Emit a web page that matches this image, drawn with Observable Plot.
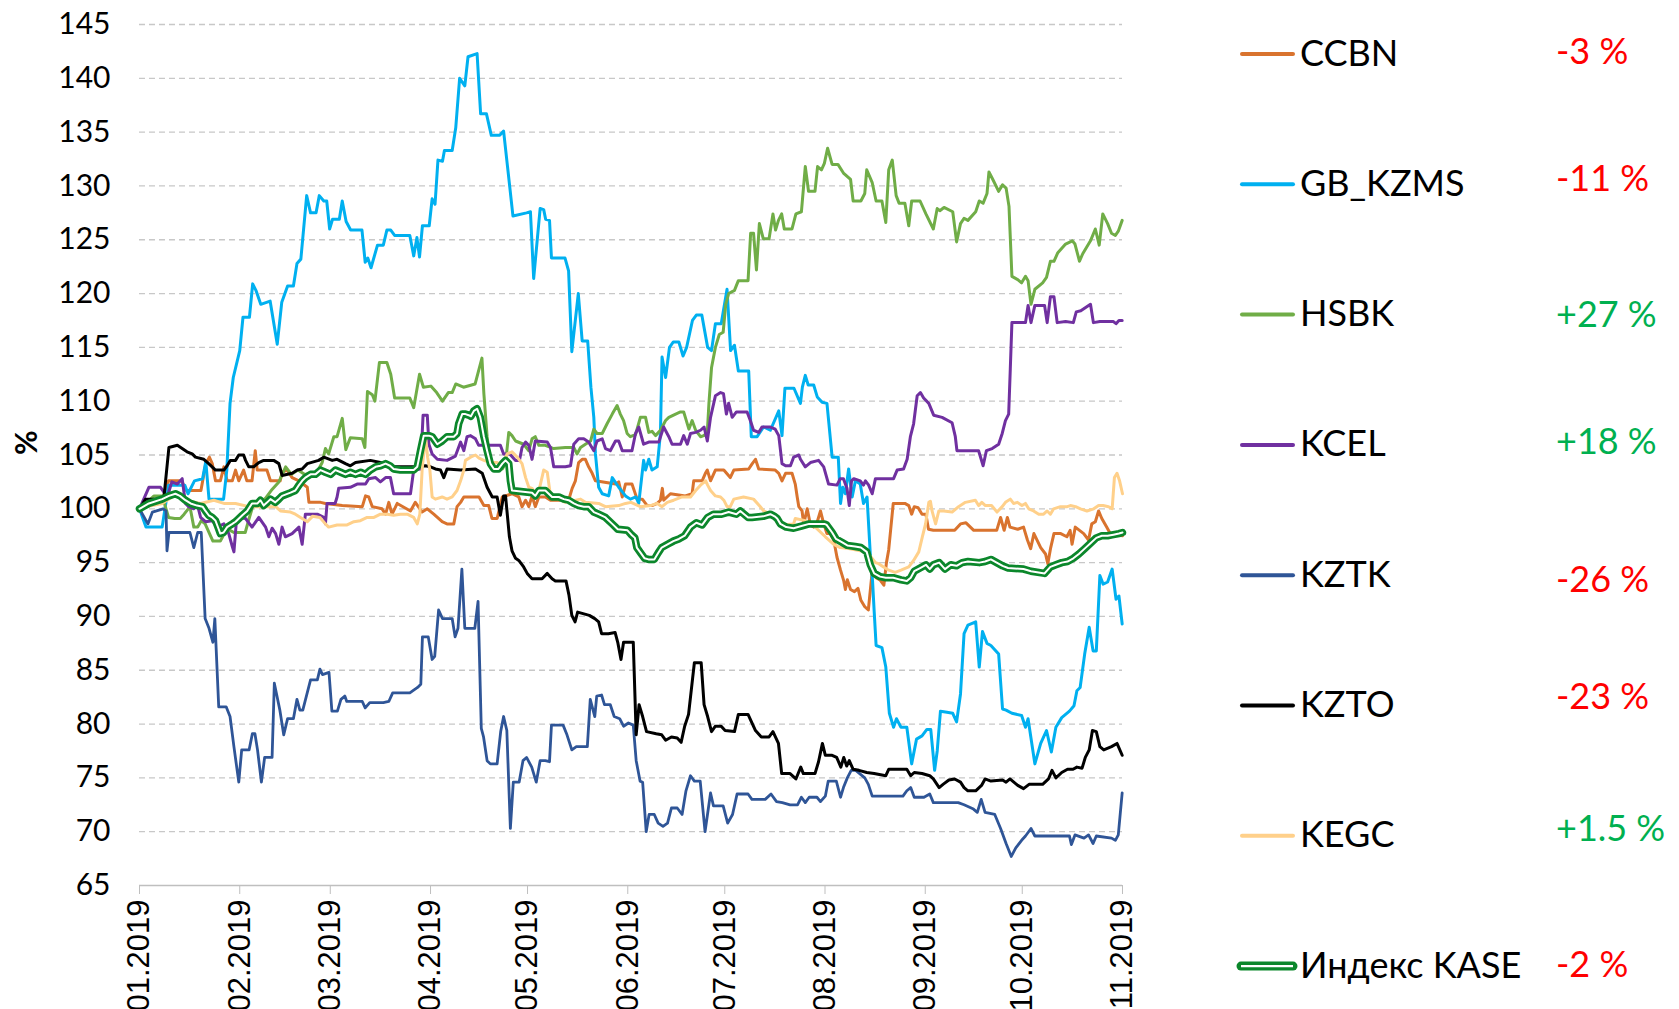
<!DOCTYPE html>
<html>
<head>
<meta charset="utf-8">
<script src="https://cdn.jsdelivr.net/npm/d3@7"></script>
<script src="https://cdn.jsdelivr.net/npm/@observablehq/plot@0.6"></script>
<style>
  html, body { margin: 0; padding: 0; background: #fff; }
  body { width: 1679px; height: 1009px; overflow: hidden; position: relative; font-family: Lato, sans-serif; }
  #chart { position: absolute; left: 0; top: 0; }
  #legend { position: absolute; left: 0; top: 0; }
</style>
</head>
<body>
<div id="chart"></div>
<svg id="legend" width="1679" height="1009"></svg>
<script>
// ---- DATA: [day of 2019 (1 = 1 Jan), level in % of the start value] ----
const xTickLabels = ["01.2019","02.2019","03.2019","04.2019","05.2019","06.2019","07.2019","08.2019","09.2019","10.2019","11.2019"];
const yTicks = [65,70,75,80,85,90,95,100,105,110,115,120,125,130,135,140,145];

const seriesNames = ["CCBN","GB_KZMS","HSBK","KCEL","KZTK","KZTO","KEGC","Индекс KASE"];
const seriesColors = ["#D9732E","#00B0F0","#70AD47","#7030A0","#2F5597","#000000","#FFD08A","#0B872B"];
const changeLabels = ["-3 %","-11 %","+27 %","+18 %","-26 %","-23 %","+1.5 %","-2 %"];

const CCBN = [[1,100],[3,100.5],[8,100.8],[10,102.6],[14,102.6],[15.5,101.7],[20,101.7],[21.5,104.2],[22.6,104.8],[23.5,104.2],[24.5,102.6],[26,102.6],[27.1,103.9],[28.1,102.6],[29.7,102.6],[30.7,103.6],[31.7,102.6],[33.2,103.6],[34.2,102.6],[35.8,102.6],[36.8,105.4],[37.4,103.6],[40.4,103.6],[41.5,102.6],[44.5,102.6],[45.1,103.4],[46.7,103.6],[48.2,102.9],[50.3,102.6],[52.9,102],[53.4,100.6],[57,100.6],[58.5,100.5],[63.7,100.3],[69.9,100.2],[70.9,101.2],[71.9,101.1],[73,100.2],[76,100],[77.1,99.5],[78.1,100.6],[79.1,99.5],[80.7,100.5],[84.8,99.8],[86.3,100.6],[88.4,99.7],[90,100],[92,99.5],[94.6,98.8],[96.1,98.6],[98.2,98.6],[99.2,100.2],[100.3,100.6],[101.3,101.1],[106,101.1],[107.5,100.3],[109,100.3],[110,99.1],[111.6,99.1],[113.2,101.1],[116.2,101.4],[118.3,101.1],[119.3,100.2],[120.4,100.8],[121.4,100.2],[122.4,101.2],[123.4,100.2],[124.5,101.1],[126.5,101.1],[128.1,100.8],[133.7,100.8],[134.8,101.9],[135.8,102.6],[136.8,104.3],[137.9,104.6],[138.9,104.6],[139.9,103.9],[141,103.3],[142,102.6],[148.2,102.3],[149.2,102.5],[150.3,101.1],[151.3,102.3],[153.3,102.3],[154.9,100.9],[156.5,100.9],[158,100.3],[159.5,100.3],[161.1,100.5],[162.1,100.8],[162.7,101.9],[163.1,100.8],[165.2,101.4],[169.8,101.2],[171.9,101.4],[172.4,102.6],[175,102.6],[176,103.3],[176.6,103.6],[177.6,102.6],[179.1,103.6],[181.7,103.6],[183.7,102.9],[184.8,103.6],[189.4,103.7],[190.5,104.2],[191.5,104.6],[192.5,103.7],[197.6,103.6],[198.7,103.3],[199.7,102.6],[200.8,103.3],[202.8,103.3],[203.8,102.3],[204.4,101.1],[204.9,100.2],[205.9,99.8],[206.4,98.6],[207.5,100],[208.5,98.5],[209.5,98.3],[210.6,98.8],[211.6,99.8],[212.6,98.6],[213.6,97.7],[214.6,97.7],[215.7,97.1],[216.7,95.5],[217.8,94.3],[218.8,93.3],[219.3,92.5],[219.9,93.4],[220.9,92.5],[222.1,92.3],[223.2,92.6],[224.1,91.5],[225.3,90.9],[226.4,90.6],[227.6,94.2],[228.8,93.6],[230,93.4],[231.2,92.9],[232,95],[232.7,96.2],[234.1,100.5],[237.7,100.5],[238.9,100.3],[239.8,99.5],[240.6,100.2],[241.8,100.1],[243,99.5],[244.2,99.5],[245,98.1],[246.5,98],[253.1,98],[254.9,98.6],[256.6,98.7],[259,98],[266.1,98],[267.3,99.2],[268.4,98],[269.4,99.2],[270.2,98.3],[272.6,98.1],[274.4,98.3],[275.6,97.1],[276.6,96.3],[277.6,97.7],[279.7,96.4],[281.2,95.8],[281.9,94.9],[282.8,96.4],[283.8,97.7],[285.9,97.7],[287.8,97.4],[288.8,98],[289.4,96.7],[290.4,98.3],[293,97.7],[294.5,97.1],[295.5,98.6],[296.6,98.8],[297.6,99.8],[298.6,99.1],[300.1,98.3],[301.2,97.7],[305,97.5]];

const GB_KZMS = [[1,100],[3,98.3],[8,98.3],[10,102.2],[15,102.2],[16,101.4],[18,102.6],[20.5,102.8],[21.5,104.4],[22.5,100.9],[27,100.9],[28,103.6],[29,109.8],[30,112.2],[32,114.7],[33,117.8],[35,117.8],[36,120.9],[37,120.3],[38.5,119],[41.4,119.3],[43.6,115.3],[45,119.2],[46.8,120.7],[48.6,120.7],[49.7,122.8],[50.9,123.2],[52.7,129.1],[53.9,127.5],[55.6,127.5],[56.6,129.1],[58,128.6],[58.9,128.6],[59.8,126],[60.7,126.9],[62.8,126.9],[63.7,128.6],[64.9,126.7],[66.3,125.9],[69.8,125.9],[70.8,122.9],[71.6,123.3],[72.6,122.4],[74.6,124.5],[76.4,124.5],[77.5,125.9],[78.7,125.9],[79.9,125.4],[84.6,125.4],[85.8,123.5],[86.8,125.2],[87.6,123.4],[88.5,126.3],[90.6,126.3],[91.5,128.8],[92.4,128.3],[93.3,132.4],[94.7,132.3],[95.3,133.3],[97.7,133.3],[98.8,135.4],[100,140],[101.6,139.3],[102.6,142],[105.4,142.3],[106.5,136.7],[108.3,136.7],[109.8,134.7],[112.4,134.7],[113.6,135.1],[116.5,127.2],[120.7,127.5],[121.9,127.6],[122.9,121.4],[124.9,127.9],[126,127.8],[126.6,126.9],[127.8,126.8],[128.4,123.3],[132.6,123.3],[133.7,122.1],[134.7,114.6],[136.7,120],[137.9,115.6],[139.6,115.6],[140.6,111.3],[141.5,108.5],[142,105.1],[143,102],[144.1,101.4],[146.1,101.2],[147.2,102.9],[149.2,102],[151.3,101.2],[152.8,100.9],[154.5,101.1],[155.4,100.5],[156.9,104.5],[157.5,103.6],[158.5,104.6],[159.5,103.6],[161.1,103.9],[162.1,107],[162.6,114.1],[163.7,112.2],[164.9,115],[166.1,115.5],[167.8,115.5],[169.1,114.2],[170.2,115],[172,117.5],[173.2,118],[174.9,118],[176.7,115],[177.9,114.7],[179.1,117.2],[180.9,117.2],[182.7,120.4],[183.8,114.7],[185,115.2],[186.2,112.8],[189.4,112.8],[190.2,106.7],[192,106.7],[194,107.6],[196.1,107.3],[198.7,109.1],[199.7,106.8],[200.6,111.2],[203.4,111.2],[205.4,109.8],[206,111.3],[206.9,112.4],[207.8,111.5],[209.5,111.5],[210.6,110.4],[212.1,109.9],[213.6,109.8],[215.2,104.8],[217.1,104.8],[217.8,100.5],[218.5,102],[219.3,101.4],[220.3,103.7],[221.4,101.1],[222.4,102.6],[223.9,102.3],[224.9,100.5],[226,101.1],[227,95.8],[227.7,93.3],[228.2,90.5],[228.8,87.3],[230.6,87.1],[231.8,85.3],[232.9,81],[234.2,79.7],[235.1,80.5],[236.5,79.7],[238.3,79.7],[239.8,76.3],[241.3,78.6],[243,78.9],[244.5,79.5],[245.7,79.5],[246.9,75.7],[247.7,77.5],[248.7,81.2],[250.7,81.1],[252.5,81],[253.7,80.2],[254.9,82.8],[256,88.4],[257.2,89.2],[259.6,89.5],[260.7,85.3],[261.7,88.6],[263.1,87.5],[264.3,87.3],[266.7,86.5],[267.9,81.4],[269,81.3],[270.8,81],[273.8,80.8],[275,79.7],[275.8,80.5],[277.9,76.3],[279.7,78.2],[281.5,79.4],[283,77.4],[284.4,79.7],[286.2,80.6],[288.6,81.2],[290,81.7],[290.9,83.1],[291.9,83.4],[293.3,86.5],[294.7,89],[295.9,86.8],[296.9,86.8],[298,93.8],[299,93],[300.4,93.2],[301.8,94.4],[303,91.6],[303.9,91.9],[304.9,89.3]];

const HSBK = [[1,100],[3,100.5],[5.5,101.2],[8,101.2],[10,99.2],[11.9,99.1],[13.6,99.1],[14.8,99.5],[16.6,100.2],[17.8,98.3],[19,98.3],[20.1,98.9],[21.3,98.6],[23.7,97],[26,97],[27.8,98],[29,98],[30.2,97.8],[33.7,97.8],[34.9,99.1],[36.1,100.3],[38,100.5],[40,101],[42,101.8],[44.1,102.5],[46.2,103.9],[48,103.2],[50,103.6],[52,103.2],[55.9,103.4],[57.5,104.3],[58.5,105.6],[59.5,105.1],[61.1,106.7],[62.1,106.7],[63.7,108.4],[64.8,105.5],[66.2,106.6],[69.9,106.5],[70.7,105.7],[71.5,110.9],[73,110.6],[73.8,110],[75.2,113.6],[77.5,113.6],[78.7,112.5],[79.9,110.3],[84.6,110.3],[85.8,109.4],[87.6,112.5],[88.8,111.3],[91.1,111.4],[92.9,110.8],[94.7,110],[96.5,110.8],[97.7,110.8],[98.8,111.6],[101.2,111.3],[104.8,111.6],[106.9,114],[107.5,110.7],[108.5,106.7],[109.5,104.2],[110.6,103.7],[113.2,103.7],[114.2,104.2],[115.2,107.1],[116.2,106.8],[117.3,106.3],[119.8,106],[121.4,105.4],[122.4,106.5],[123.4,106.7],[124.5,105.9],[126.5,105.9],[129.1,105.6],[132.7,105.7],[135.3,105.7],[136.3,105.1],[137.4,105.7],[138.9,106],[140.5,106.3],[141.5,107.4],[142.5,107],[144.1,107],[145.6,107.9],[147.2,108.8],[148.7,109.6],[149.7,108.8],[150.7,108.2],[151.8,107],[152.8,106.7],[154.4,106.9],[155.9,108.5],[157.5,108.5],[158.5,107.1],[159.5,107.2],[160.6,106.8],[162.1,107.3],[163.7,108.2],[164.7,108.5],[166.8,108.8],[168.3,109],[169.3,109],[169.9,108.4],[170.9,107.4],[171.9,108.2],[173,107.3],[174.5,106.7],[175.5,106.8],[176.6,107.1],[177.1,109.8],[177.9,113.1],[179.1,115],[180.3,116.2],[181.5,116.4],[182.3,119],[183.2,120],[185,120.3],[186.2,121.2],[189.2,121.2],[190,125.6],[190.9,125.6],[191.8,122.2],[192.7,126.5],[193.9,125.1],[195.7,125.1],[196.9,127.4],[197.7,125.9],[198.6,126.8],[199.6,127.4],[200.4,126],[202.8,126],[204,127.4],[205.7,127.6],[206.9,131.8],[207.9,129.5],[209.9,129.5],[210.7,131.8],[211.9,131.5],[212.8,132.1],[213.8,133.5],[215.2,132],[217,132],[218.7,131.2],[220.9,130.6],[221.7,128.6],[224.1,128.6],[225.3,129.3],[225.9,131.5],[227.6,130.3],[228.8,128.6],[230.6,128.6],[231.8,126.6],[232.7,131.5],[233.8,132.4],[235,129.1],[235.9,128.4],[237.7,128.4],[238.9,126.3],[239.8,128.6],[242.4,128.6],[244.2,127.4],[246.5,126],[247.7,127.9],[248.5,127.7],[249.8,128],[252.5,127.6],[253.7,124.8],[254.9,126.5],[256,127],[257.2,126.8],[259.6,127.6],[260.7,128.6],[261.9,128.4],[263.1,129.3],[263.7,131.3],[264.9,130.6],[266.7,129.5],[267.9,130.1],[269,129.8],[269.9,128.1],[270.8,121.6],[272.6,121.3],[273.8,121],[275,121.6],[275.8,121.2],[276.7,119],[277.9,120.4],[280.3,121],[281.5,121.5],[282.7,123],[283.8,123],[285,123.8],[287.4,124.6],[289.5,124.9],[290.3,124.6],[291.7,123],[292.7,123.7],[295.1,124.9],[296.6,126],[297.8,124.5],[298.9,127.4],[300.4,126.5],[301.6,125.6],[302.8,125.4],[303.7,125.8],[304.9,126.8]];

const KCEL = [[1,100],[1.3,100.2],[3.9,102],[7.5,102],[9.6,101.1],[11,102.5],[12.7,102.3],[14.2,102.8],[15.2,100.5],[16.2,100.2],[17.8,100],[18.8,100.5],[19.9,99.2],[21.4,98.8],[23.5,98.9],[25,98.3],[27.1,98.6],[28.6,97.7],[29.7,96.5],[30.2,96],[30.9,98.6],[31.7,99.2],[33.8,99.1],[35.8,98.3],[37.9,99.2],[40,98.3],[41,97.4],[42,98.2],[43.1,97.7],[44.1,96.7],[45.1,98.3],[46.1,97.4],[48.2,97.7],[50.3,98.3],[51.3,96.7],[52.3,99.5],[56,99.5],[58,99.2],[58.5,98.6],[59,100.5],[61.5,100.5],[62.1,101.1],[62.6,101.9],[66.2,102],[68.3,102.3],[70.9,102.3],[71.9,102.8],[74,102.9],[75.5,102.5],[77.1,102.9],[78.6,102.9],[79.6,101.4],[84.8,101.4],[85.8,103.6],[87.9,103.7],[88.7,108.7],[90,108.7],[90.5,106],[91.5,105.1],[93.1,104.6],[96.1,104.5],[98.7,104.9],[100.3,106.2],[101.3,105.4],[102.3,106.7],[103.4,106.8],[104.9,106.5],[105.9,105.9],[112.6,105.9],[113.6,105.1],[115.5,105.1],[117.3,104.5],[118.5,104.5],[119.3,105.7],[120.4,106.2],[121.4,105.9],[122.4,104.6],[123.4,106.3],[127.1,106.2],[128.1,105.7],[129.1,103.9],[132.7,103.9],[134.3,104],[135.3,106],[136.8,106.5],[138.4,106.5],[139.9,106.2],[141.5,105.4],[142.5,106.3],[144.1,106.5],[145.1,105.6],[146.6,105.4],[148.2,106.3],[149.2,106.3],[150.3,105.4],[153.3,105.4],[154.4,107],[155.4,107.6],[156.9,106],[158.5,106.2],[161.6,106.2],[163.1,107.6],[164.7,106.7],[165.7,106],[168.3,106],[169.3,106.8],[170.4,106],[171.4,107],[173,107.1],[174.5,107.3],[175.6,107.6],[176.6,106.3],[177.6,108.5],[179.1,110.5],[180.7,110.8],[181.6,110.7],[182.5,108.8],[183.2,109.8],[184.3,108.5],[185.6,109],[188.9,109],[189.9,108.2],[190.9,107.3],[192.5,107.1],[193.5,107.6],[196.1,107.6],[197.6,107.4],[198.7,106.8],[199.7,104.2],[200.8,104],[202.3,104],[203.3,104.8],[204.9,105],[205.4,104.6],[206.9,103.9],[208.5,104.3],[211,104.5],[212.6,103.9],[214.1,102.3],[216.7,102.2],[217.7,102.8],[218.7,102.8],[219.8,101.9],[220.5,100.3],[221.2,102.6],[221.9,102.8],[223.9,102.6],[224.9,102.2],[225.5,102.6],[226.5,102.2],[227.6,101.4],[228.6,102.8],[234.2,102.8],[235.3,103.6],[237.3,103.7],[238.4,104.6],[239.4,106.7],[240.4,107.9],[241.5,110.5],[242.5,110.8],[243.5,110.3],[245.1,109.8],[246.6,108.7],[249.2,108.5],[252.3,108],[253.3,106.7],[253.8,105.4],[260.5,105.4],[261.9,104],[262.9,105.4],[264.7,105.6],[266.7,106],[267.8,107],[268.8,108.2],[269.8,108.8],[270.3,113],[270.8,117.3],[275,117.3],[275.8,118.9],[276.7,117.3],[277.9,118.9],[280.9,118.9],[281.7,117.3],[282.7,119.7],[283.8,119.7],[284.8,117.3],[287.4,117.4],[289.8,117.3],[290.7,118.3],[292.1,118.4],[295.1,119],[296,117.3],[298,117.4],[302.2,117.4],[303,117.2],[303.9,117.5],[304.9,117.5]];

const KZTK = [[1,100],[3.6,98.6],[5,99.7],[8.3,100],[9.2,99.8],[9.5,96.1],[10.1,97.8],[16.6,97.8],[17.8,96.4],[19,97.8],[20.1,97.8],[21.3,89.8],[22.5,88.9],[23.7,87.6],[24.3,89.8],[25.5,81.6],[27.8,81.6],[29,80.7],[30.2,77.9],[31.7,74.6],[32.6,77.6],[34.9,77.6],[35.9,79.1],[36.7,79.1],[37.5,77.6],[38.7,74.6],[39.7,76.9],[42,76.9],[42.7,83.8],[44.4,81.3],[45.6,79],[46.8,80.5],[48.6,80.5],[49.7,82.3],[50.6,81.3],[51.5,81.3],[53.9,84.1],[56,84.1],[56.8,85.1],[57.6,84.6],[59.6,84.8],[60.5,81.2],[62.2,81.2],[63.3,82.3],[64.5,82.6],[65.1,82.1],[69.9,82.1],[70.8,81.5],[72.2,82],[76.4,82],[78.1,82.1],[79.3,82.9],[84.6,82.9],[87,83.4],[88,83.7],[88.5,88.1],[90.3,88.1],[91.5,86],[92.3,86.3],[93.5,90.6],[94.7,89.8],[97.7,89.8],[98.6,88.1],[99.5,88.9],[100.7,94.4],[101.6,88.9],[104.7,88.9],[105.7,91.4],[106.7,79.6],[107.4,78.8],[108.5,76.6],[109.5,76.3],[111.6,76.3],[112.7,79.3],[113.6,80.7],[114.6,79.4],[115.7,70.3],[116.6,74.6],[118.4,74.6],[119.6,76.6],[120.7,76.9],[122.3,76],[123.7,74.6],[124.9,76.6],[126.5,76.6],[127.8,76.5],[128.4,79.9],[132,79.9],[133.2,79],[134.7,77.6],[136.1,77.9],[139.5,77.9],[140.4,82.3],[141.8,80.7],[142.4,82.6],[143.9,82.7],[144.8,81.8],[146.6,81.8],[147.8,80.7],[149.5,80.5],[150.7,79.8],[152.2,80.1],[153.7,79.9],[154.6,76.6],[155.8,74.7],[156.6,74.6],[157.7,70],[158.6,71.6],[160.2,71.6],[161.4,70.8],[162.9,70.5],[164.3,70.8],[165.5,72.2],[167.3,72.2],[168.8,71.6],[170,73.8],[171.4,75.2],[172.6,74.7],[174.4,74.7],[175.9,70],[177.6,73.6],[178.5,72.4],[181.5,72.4],[182.9,70.8],[184.4,71.6],[185.8,73.5],[189.2,73.5],[190.4,73],[194.5,73],[196.3,73.5],[198,72.8],[199.8,72.7],[202.2,72.5],[204.5,72.5],[205.7,73.2],[206.9,72.7],[208.1,73.2],[210.5,73.2],[211.6,72.8],[213.1,73.3],[214,74.7],[216.5,74.7],[217.8,73.2],[218.7,74.1],[219.9,75],[221.1,75.7],[222.5,75.7],[225.3,75],[226.4,74.4],[227.6,73.3],[237.1,73.3],[238.3,73.8],[239.5,74.1],[240.6,73.2],[243.6,73.2],[245.4,73.5],[246.5,72.7],[254.2,72.7],[256,72.5],[258.9,72.1],[260.1,71.8],[261.3,73],[262.5,71.8],[265.5,71.6],[267.3,70.3],[269,68.9],[270.6,67.7],[272,68.5],[273.8,69.2],[275,69.6],[276.7,70.3],[277.9,69.6],[288.6,69.6],[289.2,68.8],[290.3,69.7],[293.1,69.4],[294.5,69.7],[295.9,68.9],[296.9,69.6],[301.6,69.4],[302.8,69.2],[303.7,69.7],[304.9,73.6]];

const KZTO = [[1,100],[2.9,100.9],[8.5,100.9],[10.1,105.7],[12.7,105.9],[15.7,105.3],[17.3,105.1],[18.3,104.8],[20.9,104.6],[22.4,104.2],[24.5,103.6],[27.1,103.6],[28.1,104],[29.1,104.5],[30.7,104.5],[31.7,105],[33.2,105],[33.8,104.5],[34.8,103.9],[36.3,103.9],[37.9,104.3],[39.4,104.5],[42.5,104.5],[44.1,104.2],[45.1,103.1],[48.2,103.3],[49.8,103.6],[51.3,103.7],[52.9,104.2],[56.4,104.5],[58,104.8],[60.6,104.5],[62.1,104.6],[64.7,104.2],[66.2,104],[67.8,104.3],[72.4,104.5],[75.5,104.3],[77.6,104.2],[79.6,103.9],[87,103.9],[89.4,104],[91,103.9],[92.5,103.7],[94.1,103.6],[95.1,102.9],[96.1,103.7],[100.3,103.6],[104.9,103.7],[107,103.3],[108.5,102],[110.1,101.1],[111.6,101.1],[112.6,99.4],[113.6,101.2],[114.2,101.2],[115.4,97.4],[116.2,96.1],[117.3,95.4],[118.3,95.2],[119.8,94.6],[120.9,94],[122.4,93.5],[125.5,93.5],[127.1,94],[128.6,93.5],[129.6,93.3],[132.9,93.3],[133.8,92],[134.7,90.1],[135.7,89.5],[136.5,90.4],[140.1,90.1],[141.8,89.8],[143,89.5],[143.9,88.4],[146,88.4],[148.1,88.5],[148.9,87.6],[149.9,86],[150.7,87.6],[153.7,87.6],[154.6,79],[155.5,81.8],[156.6,80.7],[157.8,79.3],[160.8,79.1],[162.5,79],[163.7,78.5],[165.5,78.8],[167.3,78.7],[168.5,78.3],[169.6,79.8],[170.8,80.9],[172,84.1],[172.6,85.7],[174.7,85.7],[175.6,81.8],[176.7,80.7],[177.9,79.3],[179.1,79.8],[180.9,79.8],[182.1,79.4],[185,79.3],[186.2,80.9],[189.2,80.9],[190.4,80.1],[191.5,79.4],[193.3,78.8],[195.7,78.8],[196.9,79.3],[198.6,78.2],[199.6,75.4],[202.2,75.4],[204,74.9],[205.5,76],[206.3,75.4],[209.9,75.4],[211,76.5],[212.2,78.2],[213.1,77.1],[215.2,77.1],[216.6,76.9],[217.9,76],[218.8,76.9],[219.7,76.1],[220.5,76.6],[221.7,75.8],[223.5,75.7],[225.9,75.5],[228.2,75.4],[231.8,75.2],[232.7,75.8],[238.3,75.8],[239.5,75.2],[240.6,75.5],[243,75.4],[245.4,75.2],[246.5,74.9],[248.3,74.1],[249.5,74.4],[251.3,74.8],[253.1,74.9],[254.9,74.6],[256,74.1],[257.2,73.8],[259.6,73.8],[261.4,74.3],[262.5,74.9],[264.3,74.7],[267.9,74.8],[269,74.6],[270.2,74.9],[272.6,74.3],[274.4,74],[276.1,74.4],[280.3,74.4],[282.1,74.9],[283.2,75.7],[284.4,75],[286.2,75.5],[288,75.8],[289.7,75.8],[290.9,76],[292.5,75.9],[293.5,76.9],[294.7,77.6],[295.7,79.4],[296.9,79.3],[298,77.9],[299.2,77.6],[301.6,77.9],[303.3,78.2],[304.9,77.1]];

const KEGC = [[1,100],[3,100.2],[8,100.5],[11.1,101.1],[12.5,101.4],[13.7,101.1],[15.2,100.8],[19.9,100.5],[24,100.8],[27.1,100.5],[30.7,100.5],[34.8,100.2],[43.1,100.2],[44.6,99.8],[47.7,99.7],[49.2,99.5],[50.8,99.2],[52.9,98.8],[54.5,99.3],[56.8,99.2],[58.5,98.6],[59.5,98.3],[62.1,98.5],[65.2,98.5],[67.3,98.8],[69.3,98.9],[71.4,99.2],[73.5,99.2],[75.5,99.5],[77.6,99.5],[79.6,99.4],[81.7,99.5],[83.8,99.5],[85.8,99.2],[86.9,98.6],[87.7,99.5],[88.4,103.6],[89.4,106.8],[90.1,104.8],[90.8,103.6],[91.5,101.1],[92.5,100.9],[94.6,101.1],[96.1,100.9],[97.7,101.1],[99.2,101.7],[100.3,102.6],[101.3,103.6],[101.8,104.5],[103.4,104.8],[104.9,105],[106,104.7],[107.5,104.5],[109.5,104.3],[111.6,104.3],[113.2,104],[114.7,105.1],[116.2,105.3],[117.8,104.8],[119.3,104.2],[120.4,102.9],[121.4,102],[122.4,101.9],[124,101.1],[125,102.3],[126,103.6],[127.1,103.4],[128.1,101.2],[130.7,100.9],[132.7,100.6],[137.4,100.9],[138.9,100.6],[143,100.5],[145.1,100.2],[149.2,100.3],[151.3,100.5],[153,100.6],[155.9,100.2],[159,100.3],[161.1,100.5],[162.6,100.2],[164.2,100.6],[166.2,100.8],[168.8,101.1],[171.4,101.1],[173,101.7],[174.5,102.2],[176.1,102.6],[176.7,102.2],[177.6,101.7],[179.1,101.2],[180.7,101.1],[181.7,100.8],[182.7,100.2],[183.7,100.2],[184.8,100.9],[187.8,101.1],[190.9,100.9],[193,100.2],[194,99.8],[196.1,99.5],[197.5,99.5],[198.2,98.9],[199.7,98.5],[203.3,98.6],[203.8,99.1],[206.9,98.9],[210,98.3],[213.1,97.4],[215.7,96.7],[217.7,96.4],[220.3,96.3],[223.9,96.1],[226,96],[228.6,95],[229.6,94.9],[231.1,94.6],[232.7,94.3],[234.7,94.1],[236.5,94.3],[238.9,94.6],[240.4,95.2],[242,96],[243.1,97.4],[244.1,98.6],[245.1,100.6],[245.6,100.7],[246.1,99.8],[247.2,98.6],[248.2,99.8],[249.7,99.8],[252.3,99.7],[254.3,100.2],[256.4,100.6],[259.5,100.8],[260.5,100.3],[261.5,100.6],[262.6,100.3],[264.5,100.3],[266.2,99.7],[267.8,100.2],[268.8,100.6],[270.3,100.9],[271.3,100.5],[272.5,100.6],[273.9,100.3],[275,100.5],[276,100],[277.5,99.8],[279.1,99.5],[280.6,99.5],[281.7,99.8],[282.7,99.5],[283.7,100],[285.8,100.2],[287.9,100.2],[288.9,100.3],[290.5,100.2],[292,100],[294,99.8],[296.1,100],[297.6,100.3],[299,100.3],[300.7,100.2],[301.8,100],[302.5,102.9],[303.3,103.3],[304.1,102.6],[305,101.4]];

const KASE = [[1,100],[3.9,100.5],[8,100.9],[10.1,101.2],[12.1,101.4],[13.5,101.2],[15.2,100.8],[16.8,100.5],[18.8,100.3],[20.5,100.2],[21.4,99.8],[22.4,99.4],[23.5,99.2],[24.5,98.9],[25.5,98.1],[26,97.7],[27,97.8],[28.1,98.3],[29.7,98.6],[30.7,98.8],[32.8,99.4],[34.3,99.8],[35.8,100.5],[37.5,100.5],[38.4,100.8],[39.4,100.3],[40.5,100.6],[41.5,100.9],[43,100.6],[44.1,100.9],[45.1,101.2],[47.7,101.5],[49.2,101.7],[50.3,102.2],[51.3,102.6],[52.3,102.9],[53.9,103.2],[55.4,103.2],[57,103.6],[58.5,103.4],[60.1,103.2],[61.6,103.6],[63.2,103.4],[64.7,103.2],[66.2,103.4],[67.8,103.2],[69.4,103.4],[70.9,103.2],[72.4,103.6],[74,103.9],[75.5,104],[77.1,104.2],[78.5,104],[79.6,103.7],[81.7,103.6],[85.8,103.6],[86.9,103.9],[87.9,105.4],[88.9,106.8],[90.5,106.8],[91.5,106.7],[93.1,106],[94.6,106.3],[96.1,106.7],[98.2,106.7],[99.2,107],[99.7,107.9],[100.8,108.8],[101.8,108.8],[102.8,108.7],[103.5,108.6],[104.4,109.1],[105.4,109.3],[106.4,108.5],[107.5,106.7],[108.5,105.4],[109.5,104.2],[110.6,103.7],[112,103.7],[113.2,104.2],[114.2,104.5],[115.2,104.2],[115.7,102.6],[116.2,101.7],[122.4,101.5],[123.4,101.2],[124.5,101.7],[126.5,101.7],[128.6,101.1],[130.7,101.1],[132.2,100.9],[133.7,100.8],[135.3,100.5],[136.8,100.3],[138.4,100.2],[139.9,100.2],[141.5,99.7],[143,99.5],[145.1,99.2],[147.2,98.6],[148.9,98.1],[151.9,98],[153.1,97.6],[154.2,97.3],[154.8,96.4],[156,95.9],[157.2,95.4],[158.4,95.3],[160.2,95.3],[161.4,95.9],[162.5,96.4],[164.3,96.7],[166.1,97],[167.8,97.2],[169.6,97.5],[171.4,98.3],[173.2,98.7],[175,98.5],[176.7,99.2],[178.5,99.5],[181,99.5],[183.2,99.7],[185.6,99.5],[186.8,99.8],[188,99.5],[189.2,99.2],[190.4,99.2],[193.9,99.3],[196.1,99.5],[197.4,99.3],[198.2,99.1],[199.2,98.6],[201,98.3],[203.3,98.2],[205.7,98.4],[208.1,98.6],[212.8,98.6],[213.5,98.5],[215.2,97.8],[216.4,97.2],[218.2,96.9],[219.9,96.6],[222.3,96.5],[224.1,96.4],[225.9,96],[227,94.8],[228.2,94],[230,93.7],[231.8,93.6],[234.1,93.6],[236.5,93.4],[238.3,93.3],[239.5,93.6],[240.6,94.2],[242.4,94.5],[244.2,94.8],[245.4,94.4],[246.5,94.8],[248.3,95],[250.1,94.4],[251.9,94.8],[253.7,94.7],[255.4,95],[257.2,95.1],[260.7,95],[262.5,95.1],[264.3,95.3],[266.1,95],[267.9,94.7],[269.6,94.5],[274.4,94.4],[276.7,94.2],[280.9,94],[282.7,94.6],[284.4,94.8],[286.2,95],[288,95.1],[289.8,95.4],[291.5,95.8],[293.3,96.3],[295.1,96.8],[296.9,97.3],[298.6,97.5],[300.4,97.5],[302.2,97.6],[303.9,97.7],[305,97.8]];

const seriesData = [CCBN, GB_KZMS, HSBK, KCEL, KZTK, KZTO, KEGC, KASE];

// ---- BUILD ----
const parseTick = d3.utcParse("%m.%Y");
const tickDates = xTickLabels.map(parseTick);
const start = tickDates[0].getTime();
const toDate = d => new Date(start + (d - 1) * 864e5);

const rows = seriesData.map((arr, i) => arr.map(([d, v]) => ({ name: seriesNames[i], date: toDate(d), value: v })));

const lineWidths = [3, 3, 3, 3, 2.8, 3, 3, 7.5];
const lineMarks = [];
rows.forEach((data, i) => {
  if (i === 7) {
    lineMarks.push(Plot.line(data, { x: "date", y: "value", stroke: seriesColors[i], strokeWidth: 7.5, strokeLinejoin: "round" }));
    lineMarks.push(Plot.line(data, { x: "date", y: "value", stroke: "#ffffff", strokeWidth: 2, strokeLinejoin: "round" }));
  } else {
    lineMarks.push(Plot.line(data, { x: "date", y: "value", stroke: seriesColors[i], strokeWidth: lineWidths[i], strokeLinejoin: "round" }));
  }
});

const chart = Plot.plot({
  width: 1140,
  height: 1009,
  marginLeft: 139,
  marginRight: 18,
  marginTop: 24,
  marginBottom: 124,
  x: { type: "utc", domain: [tickDates[0], tickDates[tickDates.length - 1]] },
  y: { domain: [65, 145] },
  style: { fontFamily: "Lato", fontSize: "30px", color: "#000", background: "#fff", overflow: "visible" },
  marks: [
    Plot.ruleY(yTicks.slice(1), { stroke: "#c8c8c8", strokeWidth: 1.3, strokeDasharray: "6,4" }),
    Plot.axisY(yTicks, { tickSize: 0, tickPadding: 29, fontSize: 30, fontFamily: "Lato", fill: "#000", label: null }),
    Plot.axisX(tickDates, {
      tickSize: 9, stroke: "#bfbfbf", tickRotate: -90, tickPadding: 5,
      tickFormat: (d, i) => xTickLabels[i],
      fontSize: 31, fontFamily: "Liberation Sans", fill: "#000", label: null
    }),
    Plot.ruleY([65], { stroke: "#bfbfbf", strokeWidth: 1.5 }),
    ...lineMarks,
    Plot.text(["%"], { frameAnchor: "left", dx: -112, rotate: -90, fontSize: 30, fontWeight: "bold", fontFamily: "Lato", fill: "#000" })
  ]
});
document.getElementById("chart").appendChild(chart);

// ---- LEGEND ----
const legend = d3.select("#legend");
const rowStep = 130.3;
const nameCenter0 = 52.5;
const pctShift = [-1.4, -5, 1, -2, 5.4, -8.3, -6, -0.3];
seriesNames.forEach((name, i) => {
  const cy = nameCenter0 + i * rowStep;
  const ly = cy + 1.5;
  if (i === 7) {
    legend.append("line").attr("x1", 1241).attr("x2", 1293).attr("y1", ly).attr("y2", ly)
      .attr("stroke", seriesColors[i]).attr("stroke-width", 9).attr("stroke-linecap", "round");
    legend.append("line").attr("x1", 1241).attr("x2", 1293).attr("y1", ly).attr("y2", ly)
      .attr("stroke", "#fff").attr("stroke-width", 2.4);
  } else {
    legend.append("line").attr("x1", 1242).attr("x2", 1293).attr("y1", ly).attr("y2", ly)
      .attr("stroke", seriesColors[i]).attr("stroke-width", 4).attr("stroke-linecap", "round");
  }
  legend.append("text").attr("x", 1300).attr("y", cy + 13)
    .attr("font-family", "Lato").attr("font-size", 36).attr("fill", "#000").text(name);
  const lab = changeLabels[i];
  legend.append("text").attr("x", 1556).attr("y", cy + pctShift[i] + 13)
    .attr("font-family", "Lato").attr("font-size", 36)
    .attr("fill", lab.startsWith("+") ? "#00B050" : "#FF0000").text(lab);
});
</script>
</body>
</html>
